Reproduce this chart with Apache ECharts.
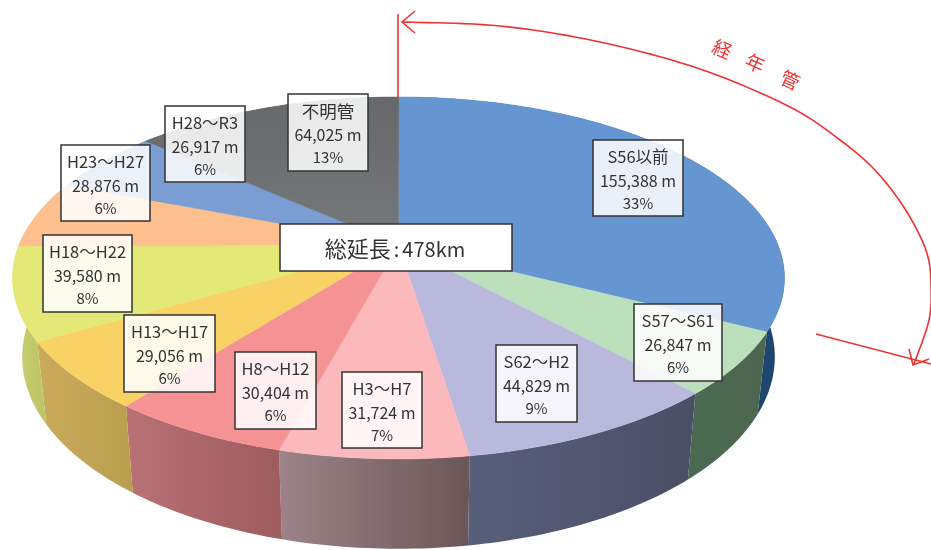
<!DOCTYPE html>
<html lang="ja">
<head>
<meta charset="utf-8">
<style>html,body{margin:0;padding:0;background:#fff}#chart{width:931px;height:550px}</style>
<script src="https://cdn.jsdelivr.net/npm/echarts@6/dist/echarts.min.js"></script>
</head>
<body>
<div id="chart"></div>
<script>
// Pipe length by construction period (metres)
const categories = ['S56以前','S57～S61','S62～H2','H3～H7','H8～H12','H13～H17','H18～H22','H23～H27','H28～R3','不明管'];
const lengths = [155388,26847,44829,31724,30404,29056,39580,28876,26917,64025];

// Slice colours: top face, then the two ends of the side-wall shading
const topColors = ['#6596d1','#bcdfbc','#b9b9de','#fbb9bb','#f59294','#f8d264','#e4e877','#fcbf8d','#7a9dd3','#6f7274'];
const sideLeft  = ['#1d4f80','#4a6a50','#585f7c','#9d8387','#b97175','#cbab5c','#c8d070','#d0a070','#5a7ab0','#505254'];
const sideRight = ['#1c466f','#4f6650','#4a4f65','#6a5658','#9d5c5e','#b89f4e','#bcc465','#d0a070','#5a7ab0','#505254'];

// Label boxes [left, top, right, bottom]
const labelBoxes = [
  [593,140,683,216],[634,304,722,381],[496,345,577,422],[342,372,422,448],[235,352,316,429],
  [124,315,215,392],[43,235,132,312],[61,145,150,221],[165,106,245,182],[288,94,368,171]
];

// Perspective disc: circle centre lands on (cx, cy), near edge is drawn larger
const cx = 398.5, cy = 245, radiusX = 379.5, radiusY = 175, tilt = 0.182;
const wallScaleX = 0.975, wallScaleY = 1.06, wallDrop = 77;
const total = lengths.reduce((a, b) => a + b, 0);
const cumulative = lengths.reduce((acc, v) => { acc.push(acc[acc.length - 1] + v); return acc; }, [0]);

function rim(deg) {
  const t = deg * Math.PI / 180, u = Math.sin(t), v = -Math.cos(t), w = 1 - tilt * v;
  return [radiusX * u / w, radiusY * v / w];
}
function arcPoints(i) {
  const a = cumulative[i] / total * 360, b = cumulative[i + 1] / total * 360, pts = [];
  const n = Math.max(2, Math.ceil(b - a));
  for (let k = 0; k <= n; k++) pts.push(rim(a + (b - a) * k / n));
  return pts;
}
const shadedTop = new Set([9]);

function renderWall(params, api) {
  const i = api.value(0), arc = arcPoints(i);
  const upper = arc.map(p => [cx + p[0], cy + p[1]]);
  const lower = arc.map(p => [cx + p[0] * wallScaleX, cy + wallDrop + p[1] * wallScaleY]).reverse();
  return {
    type: 'polygon',
    shape: { points: upper.concat(lower) },
    style: {
      fill: new echarts.graphic.LinearGradient(0, 0, 1, 0, [
        { offset: 0, color: sideLeft[i] }, { offset: 1, color: sideRight[i] }
      ])
    }
  };
}
function renderTop(params, api) {
  const i = api.value(0);
  const pts = [[cx, cy]].concat(arcPoints(i).map(p => [cx + p[0], cy + p[1]]));
  const fill = shadedTop.has(i)
    ? new echarts.graphic.LinearGradient(0, 0, 0, 1, [
        { offset: 0, color: '#66686a' }, { offset: 1, color: '#76797b' }
      ])
    : topColors[i];
  return { type: 'polygon', shape: { points: pts }, style: { fill: fill, stroke: fill, lineWidth: 0.5 } };
}
function renderLabel(params, api) {
  const i = api.value(0), box = labelBoxes[i], mid = (box[0] + box[2]) / 2;
  const lines = [categories[i], api.value(1).toLocaleString('en-US') + ' m', Math.round(api.value(1) / total * 100) + '%'];
  const offsets = [17, 41, 63];
  const sizes = [/^[^\x00-\x7f]+$/.test(categories[i]) ? 17.5 : 16.5, 16, 15];
  const children = [{
    type: 'rect',
    shape: { x: box[0], y: box[1], width: box[2] - box[0], height: box[3] - box[1] },
    style: { fill: 'rgba(255,255,255,0.86)', stroke: '#333', lineWidth: 1.5 }
  }];
  lines.forEach((line, k) => children.push({
    type: 'text',
    style: {
      text: line, x: mid, y: box[1] + offsets[k], align: 'center', verticalAlign: 'middle',
      fill: '#333', font: sizes[k] + 'px "Noto Sans CJK JP"'
    }
  }));
  return { type: 'group', children: children };
}

// Catmull-Rom sampling keeps the long age arc free of kinks
function smoothPath(ctrl) {
  const out = [];
  for (let i = 0; i < ctrl.length - 1; i++) {
    const p0 = ctrl[Math.max(i - 1, 0)], p1 = ctrl[i], p2 = ctrl[i + 1], p3 = ctrl[Math.min(i + 2, ctrl.length - 1)];
    for (let s = 0; s < 12; s++) {
      const t = s / 12, t2 = t * t, t3 = t2 * t;
      out.push([0, 1].map(d => 0.5 * (2 * p1[d] + (p2[d] - p0[d]) * t + (2 * p0[d] - 5 * p1[d] + 4 * p2[d] - p3[d]) * t2 + (3 * p1[d] - p0[d] - 3 * p2[d] + p3[d]) * t3)));
    }
  }
  out.push(ctrl[ctrl.length - 1]);
  return out;
}

const red = '#ee3333';
const redLine = { stroke: red, lineWidth: 1.6, fill: 'none' };
const ageArc = [[402,22],[500,26],[600,42],[700,69],[790,107],[840,140],[873,168],[899,200],[917,230],[928,257],[931,285],[929,320],[914,364]];
const ageLetters = [['経',722,49],['年',755,63],['管',790,80]];

const chart = echarts.init(document.getElementById('chart'), null, { renderer: 'canvas' });
const seriesData = lengths.map((v, i) => [i, v]);
chart.setOption({
  animation: false,
  backgroundColor: '#fff',
  series: [
    { type: 'custom', coordinateSystem: 'none', z: 1, silent: true, data: seriesData, renderItem: renderWall },
    { type: 'custom', coordinateSystem: 'none', z: 2, silent: true, data: seriesData, renderItem: renderTop },
    { type: 'custom', coordinateSystem: 'none', z: 3, silent: true, data: seriesData, renderItem: renderLabel }
  ],
  graphic: [
    { type: 'rect', z: 10, shape: { x: 280, y: 224, width: 232, height: 47 }, style: { fill: '#fff', stroke: '#333', lineWidth: 1.5 } },
    {
      type: 'text', z: 11, x: 395, y: 249,
      style: {
        text: '{a|総延長}{b|:}{c|' + Math.round(total / 1000) + 'km}',
        align: 'center', verticalAlign: 'middle',
        rich: {
          a: { font: '22px "Noto Sans CJK JP"', fill: '#333' },
          b: { font: '20px "Noto Sans CJK JP"', fill: '#333', padding: [0, 3, 0, 3] },
          c: { font: '20px "Noto Sans CJK JP"', fill: '#333' }
        }
      }
    },
    { type: 'line', z: 12, shape: { x1: 398, y1: 14, x2: 398, y2: 98 }, style: redLine },
    { type: 'polyline', z: 12, shape: { points: smoothPath(ageArc) }, style: redLine },
    { type: 'polyline', z: 12, shape: { points: [[415,11],[402,22],[415,33]] }, style: redLine },
    { type: 'polyline', z: 12, shape: { points: [[909,349],[913,365],[929,359]] }, style: redLine },
    { type: 'line', z: 12, shape: { x1: 816, y1: 334, x2: 931, y2: 364 }, style: redLine }
  ].concat(ageLetters.map(l => ({
    type: 'text', z: 12, x: l[1], y: l[2], rotation: -24 * Math.PI / 180,
    style: { text: l[0], align: 'center', verticalAlign: 'middle', fill: red, font: '19px "Noto Sans CJK JP"' }
  })))
});
</script>
</body>
</html>
